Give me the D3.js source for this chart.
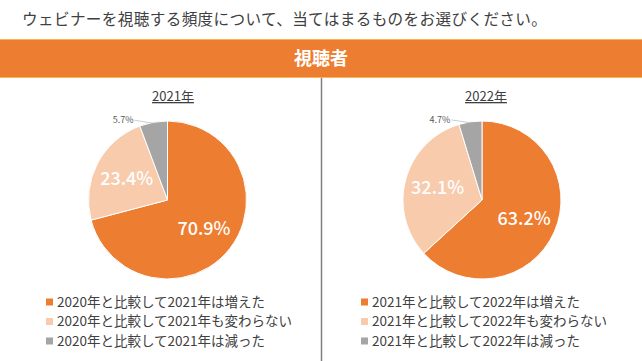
<!DOCTYPE html>
<html>
<head>
<meta charset="utf-8">
<script src="https://cdn.jsdelivr.net/npm/d3@7"></script>
<style>
  body { margin: 0; background: #fff; }
  svg { display: block; font-family: "Noto Sans CJK JP", "Noto Sans", sans-serif; }
</style>
</head>
<body>
<svg id="chart" width="642" height="361"></svg>
<script>
// data
const question = "ウェビナーを視聴する頻度について、当てはまるものをお選びください。";
const bandTitle = "視聴者";
const years = ["2021年", "2022年"];
const labels2021 = ["2020年と比較して2021年は増えた", "2020年と比較して2021年も変わらない", "2020年と比較して2021年は減った"];
const labels2022 = ["2021年と比較して2022年は増えた", "2021年と比較して2022年も変わらない", "2021年と比較して2022年は減った"];
const values2021 = [70.9, 23.4, 5.7];
const values2022 = [63.2, 32.1, 4.7];
const colors = ["#ED7D31", "#F8CBAD", "#A5A5A5"];

const svg = d3.select("#chart");
const W = 642, H = 361;

// question line
svg.append("text")
    .attr("x", 22).attr("y", 25)
    .attr("font-size", 15.6)
    .attr("letter-spacing", 0.37)
    .attr("fill", "#404040")
    .text(question);

// orange band
svg.append("rect")
    .attr("x", 0).attr("y", 39)
    .attr("width", W).attr("height", 39)
    .attr("fill", "#ED7D31");
svg.append("line").attr("x1", 0).attr("x2", W).attr("y1", 39.5).attr("y2", 39.5)
    .attr("stroke", "#F6B65A").attr("stroke-width", 1);
svg.append("line").attr("x1", 0).attr("x2", W).attr("y1", 77.5).attr("y2", 77.5)
    .attr("stroke", "#F6B65A").attr("stroke-width", 1);
svg.append("text")
    .attr("x", W / 2).attr("y", 65)
    .attr("text-anchor", "middle")
    .attr("font-size", 18).attr("font-weight", "bold")
    .attr("fill", "#fff")
    .text(bandTitle);

// divider between the two panels
svg.append("line")
    .attr("x1", 321.5).attr("x2", 321.5)
    .attr("y1", 78).attr("y2", H)
    .attr("stroke", "#7F7F7F").attr("stroke-width", 1.5);

const radius = 79;
const pie = d3.pie().sort(null).startAngle(0).endAngle(2 * Math.PI);
const arc = d3.arc().innerRadius(0).outerRadius(radius);
const labelArc = d3.arc().innerRadius(46).outerRadius(46);

const panels = [
    { year: years[0], values: values2021, labels: labels2021, cx: 167.5, titleX: 173, legendX: 46 },
    { year: years[1], values: values2022, labels: labels2022, cx: 482, titleX: 486, legendX: 361 }
];

panels.forEach(p => {
    const g = svg.append("g");

    // year heading, underlined
    g.append("text")
        .attr("x", p.titleX).attr("y", 101)
        .attr("text-anchor", "middle")
        .attr("font-size", 13)
        .attr("fill", "#404040")
        .attr("text-decoration", "underline")
        .text(p.year);

    const cy = 200;
    const pg = g.append("g").attr("transform", `translate(${p.cx},${cy})`);
    const arcs = pie(p.values);

    pg.selectAll("path")
        .data(arcs)
        .join("path")
        .attr("d", arc)
        .attr("fill", (d, i) => colors[i])
        .attr("stroke", "#fff")
        .attr("stroke-width", 1);

    // big labels inside the two larger slices
    pg.selectAll("text.big")
        .data(arcs.slice(0, 2))
        .join("text")
        .attr("class", "big")
        .attr("transform", d => `translate(${labelArc.centroid(d)})`)
        .attr("text-anchor", "middle")
        .attr("dy", "0.36em")
        .attr("font-size", 18)
        .attr("font-weight", 500)
        .attr("fill", "#fff")
        .text(d => d.data.toFixed(1) + "%");

    // small slice: label outside with a leader line
    const s = arcs[2];
    const mid = (s.startAngle + s.endAngle) / 2;
    const ex = radius * Math.sin(mid), ey = -radius * Math.cos(mid) + 1;
    const sx = ex - 19, sy = ey - 3;
    pg.append("line")
        .attr("x1", sx).attr("y1", sy)
        .attr("x2", ex).attr("y2", ey)
        .attr("stroke", "#BFBFBF").attr("stroke-width", 0.8);
    pg.append("text")
        .attr("x", sx - 1).attr("y", sy + 3)
        .attr("text-anchor", "end")
        .attr("font-size", 9)
        .attr("fill", "#595959")
        .text(s.data.toFixed(1) + "%");

    // legend
    const lg = g.append("g").attr("transform", `translate(${p.legendX},302)`);
    const rows = lg.selectAll("g")
        .data(p.labels)
        .join("g")
        .attr("transform", (d, i) => `translate(0,${i * 19.5})`);
    rows.append("rect")
        .attr("x", 0).attr("y", -3.5)
        .attr("width", 7).attr("height", 7)
        .attr("fill", (d, i) => colors[i]);
    rows.append("text")
        .attr("x", 11).attr("y", 0)
        .attr("dy", "0.35em")
        .attr("font-size", 13.5)
        .attr("fill", "#404040")
        .text(d => d);
});
</script>
</body>
</html>
